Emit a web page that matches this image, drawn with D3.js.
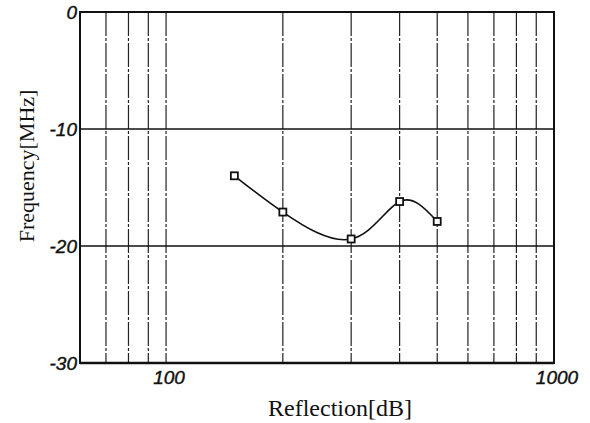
<!DOCTYPE html>
<html lang="en">
<head>
<meta charset="utf-8">
<title>Reflection vs Frequency</title>
<script src="https://d3js.org/d3.v7.min.js"></script>
<style>
  body { margin: 0; background: #fff; }
  .tick-label { font-family: "Liberation Sans", Arial, sans-serif; font-style: italic; font-size: 19px; fill: #111; stroke: #111; stroke-width: 0.4; }
  .axis-title { font-family: "Liberation Serif", "Times New Roman", serif; fill: #111; }
</style>
</head>
<body>
<script>
// data
var reflection = [150, 200, 300, 400, 500];
var frequency = [-14.0, -17.1, -19.4, -16.2, -17.9];
var xTicks = [100, 1000];
var yTicks = [0, -10, -20, -30];
var xGrid = [70, 80, 90, 100, 200, 300, 400, 500, 600, 700, 800, 900];
var yGrid = [-10, -20];

var totalWidth = 590, totalHeight = 423;
var margin = {top: 12, left: 80, right: 36, bottom: 60};
var width = totalWidth - margin.left - margin.right;
var height = totalHeight - margin.top - margin.bottom;

var svg = d3.select("body").append("svg")
  .attr("width", totalWidth)
  .attr("height", totalHeight);

var g = svg.append("g").attr("transform", "translate(" + margin.left + "," + margin.top + ")");

var xScale = d3.scaleLog().domain([60, 1000]).range([0, width]);
var yScale = d3.scaleLinear().domain([-30, 0]).range([height, 0]);

// vertical dashed grid
g.selectAll(".vgrid").data(xGrid).enter().append("line")
  .attr("class", "vgrid")
  .attr("x1", function(d){ return xScale(d); })
  .attr("x2", function(d){ return xScale(d); })
  .attr("y1", 0).attr("y2", height)
  .style("stroke", "#222").style("stroke-width", 1.2)
  .style("stroke-dasharray", "24,2,3,2");

// horizontal solid grid
g.selectAll(".hgrid").data(yGrid).enter().append("line")
  .attr("class", "hgrid")
  .attr("x1", 0).attr("x2", width)
  .attr("y1", function(d){ return yScale(d); })
  .attr("y2", function(d){ return yScale(d); })
  .style("stroke", "#111").style("stroke-width", 1.6);

// frame
g.append("rect")
  .attr("width", width).attr("height", height)
  .style("fill", "none").style("stroke", "#111").style("stroke-width", 2);
g.append("line")
  .attr("x1", 0).attr("x2", width).attr("y1", height).attr("y2", height)
  .style("stroke", "#111").style("stroke-width", 2.6);

// tick labels
g.selectAll(".ylab").data(yTicks).enter().append("text")
  .attr("class", "tick-label")
  .attr("x", -3)
  .attr("y", function(d){ return yScale(d) + 7; })
  .style("text-anchor", "end")
  .text(function(d){ return d; });

g.selectAll(".xlab").data(xTicks).enter().append("text")
  .attr("class", "tick-label")
  .attr("x", function(d){ return xScale(d) + 3; })
  .attr("y", height + 21)
  .style("text-anchor", "middle")
  .text(function(d){ return d; });

// curve
var pts = reflection.map(function(d, i){ return [d, frequency[i]]; });
var line = d3.line()
  .x(function(d){ return xScale(d[0]); })
  .y(function(d){ return yScale(d[1]); })
  .curve(d3.curveNatural);

g.append("path").datum(pts)
  .attr("d", line)
  .style("fill", "none").style("stroke", "#111").style("stroke-width", 1.6);

// square markers
g.selectAll(".mark").data(pts).enter().append("rect")
  .attr("class", "mark")
  .attr("x", function(d){ return xScale(d[0]) - 3.5; })
  .attr("y", function(d){ return yScale(d[1]) - 3.5; })
  .attr("width", 7).attr("height", 7)
  .style("fill", "#fff").style("stroke", "#111").style("stroke-width", 1.8);

// axis titles
svg.append("text")
  .attr("class", "axis-title")
  .attr("x", 340)
  .attr("y", 416)
  .style("font-size", "24px")
  .style("text-anchor", "middle")
  .text("Reflection[dB]");

svg.append("text")
  .attr("class", "axis-title")
  .attr("transform", "translate(34,166) rotate(-90)")
  .style("font-size", "22px")
  .style("text-anchor", "middle")
  .text("Frequency[MHz]");
</script>
</body>
</html>
